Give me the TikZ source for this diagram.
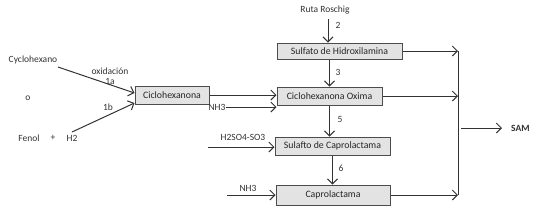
\documentclass[tikz,border=0pt]{standalone}
\usepackage{fontspec}
\setmainfont{Carlito}
\usetikzlibrary{arrows.meta}
\begin{document}
\begin{tikzpicture}[x=1pt,y=-1pt,
  proc/.style={draw=black!70, line width=1pt, fill=gray!22, minimum height=18pt, inner sep=0pt, font=\fontsize{9.8}{11}\selectfont, text=black!85},
  lbl/.style={inner sep=0pt, font=\fontsize{9.5}{9.5}\selectfont, text=black!80},
  flow/.style={draw=black!80, line width=1pt, -{Straight Barb[length=5pt,width=10pt]}},
  bar/.style={draw=black!80, line width=1pt},
  ]
\useasboundingbox (0,0) rectangle (544,210);
% boxes
\node[proc, minimum width=74pt] (ch) at (172,95) {Ciclohexanona};
\node[proc, minimum width=125pt, minimum height=16pt] (sh) at (339.5,51) {Sulfato de Hidroxilamina};
\node[proc, minimum width=105pt] (ox) at (329.5,96) {Ciclohexanona Oxima};
\node[proc, minimum width=115pt] (sc) at (332.5,146) {Sulafto de Caprolactama};
\node[proc, minimum width=114pt, minimum height=20pt] (cp) at (333,195) {Caprolactama};
% labels
\node[lbl] (cyc) at (33,60) {Cyclohexano};
\node[lbl] (o) at (28,98) {o};
\node[lbl] (fen) at (29,138) {Fenol};
\node[lbl] (plus) at (53,138) {+};
\node[lbl] (h2) at (72,138) {H2};
\node[lbl, align=center] (oxi) at (110,76) {oxidación\\1a};
\node[lbl] (l1b) at (108,107.5) {1b};
\node[lbl] (ruta) at (325,10) {Ruta Roschig};
\node[lbl] (n2) at (338,25) {2};
\node[lbl] (n3) at (338,72) {3};
\node[lbl] (n5) at (340,119) {5};
\node[lbl] (n6) at (341,168) {6};
\node[lbl] (nh3a) at (217,107) {NH3};
\node[lbl] (h2so4) at (243,137) {H2SO4-SO3};
\node[lbl] (nh3b) at (248,188) {NH3};
\node[lbl, font=\bfseries\fontsize{9.5}{9.5}\selectfont, anchor=west] (sam) at (511,128) {SAM};
% coordinates
\coordinate (c1) at (58,67);
\coordinate (f1) at (72,132);
\coordinate (r2) at (328,19);
\coordinate (hs) at (208,147);
\coordinate (nb) at (227,195);
\coordinate (bx) at (458,0);
\coordinate (sm) at (461,128);
% connectors
\draw[flow] (c1) -- ([yshift=2pt]ch.west);
\draw[flow] (f1) -- ([yshift=-8pt]ch.west);
\draw[flow] (r2) -- (r2 |- sh.north);
\draw[flow] (ox.north |- sh.south) -- (ox.north);
\draw[flow] (ox.south) -- (ox.south |- sc.north);
\draw[flow] (sc.south) -- (sc.south |- cp.north);
\draw[flow] (ch.east) -- (ch.east -| ox.west);
\draw[flow] (nh3a.east) -- (nh3a.east -| ox.west);
\draw[flow] (hs) -- (hs -| sc.west);
\draw[flow] (nb) -- (nb -| cp.west);
\draw[bar] (sh.east -| bx) -- (cp.east -| bx);
\draw[flow] (sh.east) -- (sh.east -| bx);
\draw[flow] (ox.east) -- (ox.east -| bx);
\draw[flow] (cp.east) -- (cp.east -| bx);
\draw[flow] (sm) -- ([xshift=-9pt]sam.west);
\end{tikzpicture}
\end{document}
